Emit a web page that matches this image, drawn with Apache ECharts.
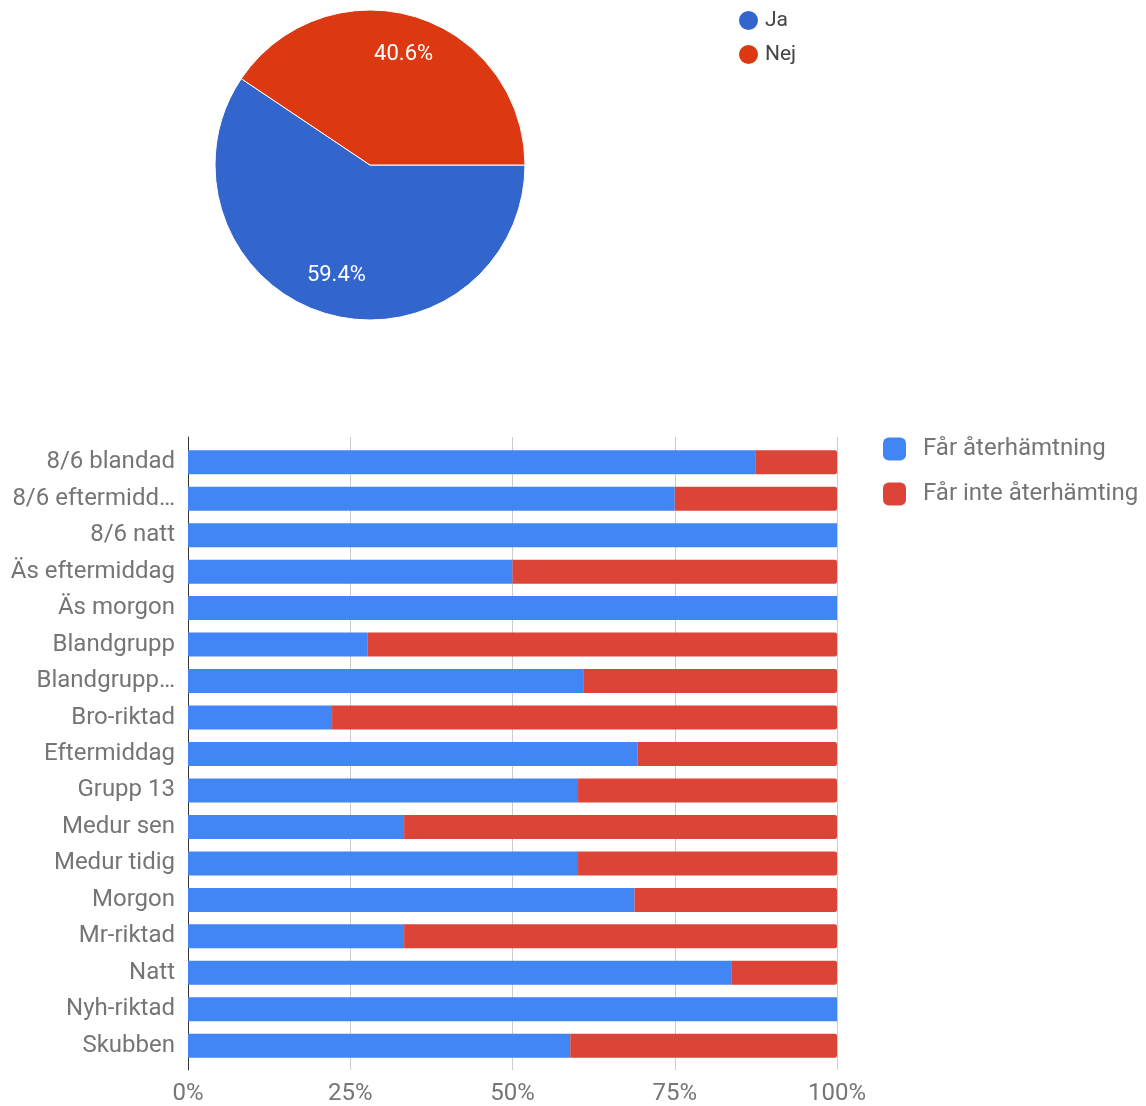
<!DOCTYPE html>
<html>
<head>
<meta charset="utf-8">
<script src="https://cdn.jsdelivr.net/npm/echarts@6/dist/echarts.min.js"></script>
<style>
html,body{margin:0;padding:0;background:#fff;}
#c{width:1146px;height:1106px;}
</style>
</head>
<body>
<div id="c"></div>
<script>
var pieNames = ['Ja', 'Nej'];
var pieValues = [59.4, 40.6];
var pieColors = ['#3366CC', '#DC3912'];

var categories = ['8/6 blandad', '8/6 eftermidd…', '8/6 natt', 'Äs eftermiddag', 'Äs morgon', 'Blandgrupp', 'Blandgrupp…', 'Bro-riktad', 'Eftermiddag', 'Grupp 13', 'Medur sen', 'Medur tidig', 'Morgon', 'Mr-riktad', 'Natt', 'Nyh-riktad', 'Skubben'];
var seriesNames = ['Får återhämtning', 'Får inte återhämting'];
var farValues = [87.5, 75, 100, 50, 100, 27.7, 61, 22.2, 69.3, 60.1, 33.3, 60.1, 68.8, 33.3, 83.7, 100, 58.9];
var farInteValues = [12.5, 25, 0, 50, 0, 72.3, 39, 77.8, 30.7, 39.9, 66.7, 39.9, 31.2, 66.7, 16.3, 0, 41.1];
var xTicks = [0, 25, 50, 75, 100];

var FONT = 'Roboto, "Noto Sans", sans-serif';
var chart = echarts.init(document.getElementById('c'), null, {renderer: 'canvas'});

var pieData = pieNames.map(function (n, i) {
  return {name: n, value: pieValues[i], itemStyle: {color: pieColors[i]}};
});

var option = {
  backgroundColor: '#fff',
  animation: false,
  textStyle: {fontFamily: FONT},
  legend: [
    {
      data: pieNames,
      left: 737, top: 9, padding: 0,
      orient: 'vertical',
      icon: 'circle',
      itemWidth: 21, itemHeight: 21,
      itemGap: 11,
      textStyle: {color: '#444', fontSize: 21, fontFamily: FONT, padding: [0, 0, 0, 1]}
    },
    {
      data: seriesNames,
      left: 883, top: 437, padding: 0,
      orient: 'vertical',
      icon: 'roundRect',
      itemWidth: 23, itemHeight: 23,
      itemGap: 21,
      textStyle: {color: '#757575', fontSize: 24, fontFamily: FONT, padding: [0, 0, 0, 12]}
    }
  ],
  grid: [
    {left: 188, top: 437, width: 649, height: 633, containLabel: false},
    {left: 188, top: 444, width: 649, height: 620, containLabel: false}
  ],
  xAxis: [
    {
      gridIndex: 0, type: 'value', min: 0, max: 100, interval: 25,
      axisLine: {show: false}, axisTick: {show: false},
      splitLine: {show: true, lineStyle: {color: '#cccccc', width: 1}},
      axisLabel: {
        color: '#757575', fontSize: 24, fontFamily: FONT, margin: 12,
        formatter: function (v) { return xTicks.indexOf(v) >= 0 ? v + '%' : ''; }
      }
    },
    {
      gridIndex: 1, type: 'value', min: 0, max: 100,
      show: false
    }
  ],
  yAxis: [
    {
      gridIndex: 0, type: 'value', min: 0, max: 1,
      axisLine: {show: true, lineStyle: {color: '#333', width: 1}},
      axisTick: {show: false}, axisLabel: {show: false}, splitLine: {show: false}
    },
    {
      gridIndex: 1, type: 'category', data: categories, inverse: true,
      axisLine: {show: false}, axisTick: {show: false}, splitLine: {show: false},
      axisLabel: {color: '#757575', fontSize: 24, fontFamily: FONT, margin: 13}
    }
  ],
  series: [
    {
      type: 'pie',
      center: [370, 165], radius: [0, 155],
      startAngle: 0, clockwise: true,
      data: pieData,
      label: {show: false}, labelLine: {show: false},
      itemStyle: {borderColor: '#fff', borderWidth: 1},
      silent: true
    },
    {
      type: 'pie',
      center: [370, 165], radius: [70, 155],
      startAngle: 0, clockwise: true,
      data: pieData.map(function (d) { return {name: d.name, value: d.value}; }),
      itemStyle: {color: 'rgba(0,0,0,0)', borderWidth: 0},
      label: {
        show: true, position: 'inside', color: '#fff', fontSize: 22, fontFamily: FONT,
        formatter: function (p) { return p.value.toFixed(1) + '%'; }
      },
      labelLine: {show: false},
      legendHoverLink: false,
      silent: true,
      tooltip: {show: false}
    },
    {
      name: seriesNames[0], type: 'bar', stack: 'total',
      xAxisIndex: 1, yAxisIndex: 1,
      data: farValues, barWidth: 24,
      itemStyle: {color: '#4285F4'}
    },
    {
      name: seriesNames[1], type: 'bar', stack: 'total',
      xAxisIndex: 1, yAxisIndex: 1,
      data: farInteValues, barWidth: 24,
      itemStyle: {color: '#DB4437', borderRadius: [0, 2, 2, 0]}
    }
  ]
};
chart.setOption(option);
</script>
</body>
</html>
